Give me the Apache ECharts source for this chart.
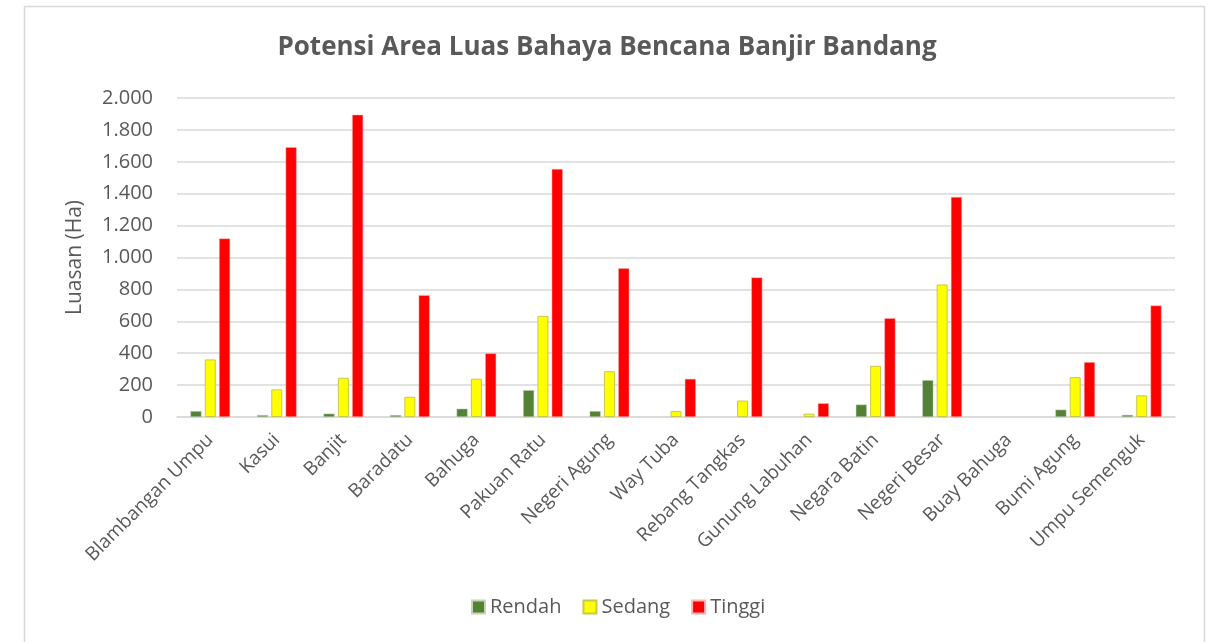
<!DOCTYPE html>
<html>
<head>
<meta charset="utf-8">
<script src="https://cdn.jsdelivr.net/npm/echarts@6/dist/echarts.min.js"></script>
<style>
html,body{margin:0;padding:0;background:#fff;}
#c{width:1214px;height:642px;}
</style>
</head>
<body>
<div id="c"></div>
<script>
var categories = ["Blambangan Umpu","Kasui","Banjit","Baradatu","Bahuga","Pakuan Ratu","Negeri Agung","Way Tuba","Rebang Tangkas","Gunung Labuhan","Negara Batin","Negeri Besar","Buay Bahuga","Bumi Agung","Umpu Semenguk"];
var rendah = [37, 12, 21, 12, 52, 168, 37, 0, 0, 0, 78, 231, 0, 46, 13];
var sedang = [361, 173, 246, 127, 240, 634, 287, 38, 103, 21, 321, 831, 0, 250, 136];
var tinggi = [1119, 1691, 1895, 764, 399, 1555, 932, 239, 875, 86, 619, 1379, 0, 344, 699];
var yTicks = {min: 0, max: 2000, interval: 200};

function noBorderAtZero(arr) {
  return arr.map(function (v) { return v === 0 ? {value: 0, itemStyle: {borderWidth: 0}} : v; });
}

var FONT = "Open Sans";
var chart = echarts.init(document.getElementById('c'));
chart.setOption({
  backgroundColor: '#ffffff',
  animation: false,
  textStyle: {fontFamily: FONT},
  graphic: [{
    type: 'rect', silent: true,
    shape: {x: 24.5, y: 6.5, width: 1180, height: 660},
    style: {fill: 'none', stroke: '#d9d9d9', lineWidth: 1.5}
  }],
  title: {
    text: 'Potensi Area Luas Bahaya Bencana Banjir Bandang',
    left: 'center', top: 30,
    textStyle: {fontFamily: FONT, fontSize: 26, fontWeight: 'bold', color: '#595959'}
  },
  legend: {
    top: 592, left: 466,
    itemWidth: 13, itemHeight: 13, itemGap: 21,
    icon: 'rect',
    textStyle: {fontFamily: FONT, fontSize: 20, color: '#595959', padding: [0,0,0,0]},
    data: ['Rendah','Sedang','Tinggi']
  },
  grid: {left: 177, right: 39, top: 98, bottom: 225, containLabel: false},
  xAxis: {
    type: 'category', data: categories,
    axisLine: {lineStyle: {color: '#d9d9d9', width: 1.5}},
    axisTick: {show: false},
    axisLabel: {rotate: 45, interval: 0, fontFamily: FONT, fontSize: 19, color: '#595959', margin: 20}
  },
  yAxis: {
    type: 'value', min: yTicks.min, max: yTicks.max, interval: yTicks.interval,
    name: 'Luasan (Ha)', nameLocation: 'middle', nameGap: 91, nameRotate: 90,
    nameTextStyle: {fontFamily: FONT, fontSize: 21, color: '#595959'},
    axisLine: {show: false}, axisTick: {show: false},
    axisLabel: {
      fontFamily: FONT, fontSize: 20, color: '#595959', margin: 24,
      formatter: function(v){ return String(v).replace(/\B(?=(\d{3})+(?!\d))/g, '.'); }
    },
    splitLine: {lineStyle: {color: '#d9d9d9', width: 1.5}}
  },
  series: [
    {name: 'Rendah', type: 'bar', data: noBorderAtZero(rendah), barWidth: 11, barGap: '30%',
     itemStyle: {color: '#548235', borderColor: '#c5d3b8', borderWidth: 0.5}},
    {name: 'Sedang', type: 'bar', data: noBorderAtZero(sedang), barWidth: 11, barGap: '30%',
     itemStyle: {color: '#ffff00', borderColor: '#c8c84a', borderWidth: 1}},
    {name: 'Tinggi', type: 'bar', data: noBorderAtZero(tinggi), barWidth: 11, barGap: '30%',
     itemStyle: {color: '#ff0000', borderColor: '#ffb0b0', borderWidth: 0.5}}
  ]
});
</script>
</body>
</html>
